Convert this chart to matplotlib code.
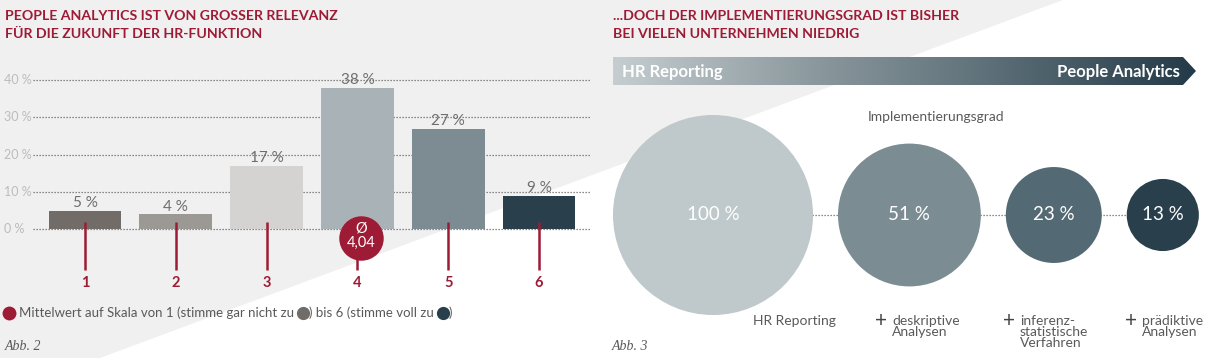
import numpy as np
import matplotlib.pyplot as plt
from matplotlib.patches import Polygon, Circle
from matplotlib.colors import LinearSegmentedColormap
from matplotlib.transforms import blended_transform_factory

W, H = 1209, 358          # output size in pixels, bg axes works in pixel units
RED = "#9e1b36"
TXT = "#5a5a5a"
FONT = "Lato"

# --- left chart data (Abb. 2) ---
scale_points = [1, 2, 3, 4, 5, 6]
shares = [5, 4, 17, 38, 27, 9]
bar_colors = ["#716c67", "#9c9894", "#d4d3d1", "#a9b3b7", "#7d8c92", "#29404c"]
mean_value = 4.04
y_ticks = [0, 10, 20, 30, 40]

# --- right chart data (Abb. 3) ---
stages = ["HR Reporting", "deskriptive\nAnalysen", "inferenz-\nstatistische\nVerfahren",
          "prädiktive\nAnalysen"]
implementation = [100, 51, 23, 13]
bubble_colors = ["#bfc8ca", "#7b8c92", "#536973", "#29404c"]

fig = plt.figure(figsize=(W / 100, H / 100), dpi=100, facecolor="white")
bg = fig.add_axes([0, 0, 1, 1])
bg.set_xlim(0, W)
bg.set_ylim(H, 0)
bg.axis("off")

# diagonal grey backdrop
bg.add_patch(Polygon([(0, 0), (1063, 0), (100, H), (0, H)], closed=True,
                     facecolor="#f0f0f0", edgecolor="none", zorder=0))

# titles
for x0, lines in [(5, ["PEOPLE ANALYTICS IST VON GROSSER RELEVANZ", "FÜR DIE ZUKUNFT DER HR-FUNKTION"]),
                  (613, ["...DOCH DER IMPLEMENTIERUNGSGRAD IST BISHER", "BEI VIELEN UNTERNEHMEN NIEDRIG"])]:
    for i, line in enumerate(lines):
        bg.text(x0, 16 + 18 * i, line, ha="left", va="center", color=RED,
                fontsize=10.2, fontweight="bold", family=FONT)

# ---------------- bar chart ----------------
px_left, px_right, px_top, px_bot = 33, 590, 60, 300
x_of = lambda px: 1 + (px - 85) / 90.8
y_of = lambda py: (229.3 - py) / 3.73
ax = fig.add_axes([px_left / W, (H - px_bot) / H, (px_right - px_left) / W, (px_bot - px_top) / H])
ax.set_facecolor("none")
ax.set_xlim(x_of(px_left), x_of(px_right))
ax.set_ylim(y_of(px_bot), y_of(px_top))
ax.axis("off")

ytr = blended_transform_factory(bg.transData, ax.transData)
for v in y_ticks:
    ax.text(4, v, f"{v} %", transform=ytr, ha="left", va="center", color="#bcbcbc",
            fontsize=9, family=FONT)

ax.hlines(y_ticks, *ax.get_xlim(), colors="#666666", linestyles=(0, (1, 1.4)), lw=0.9, zorder=1)
ax.bar(scale_points, shares, width=0.8, color=bar_colors, zorder=2)
for x, v in zip(scale_points, shares):
    ax.annotate(f"{v} %", (x, v), xytext=(0, 0.5), textcoords="offset points",
                ha="center", va="bottom", fontsize=11, color="#6e6e6e", family=FONT, zorder=3)

ax.vlines(scale_points, y_of(270), y_of(222), colors=RED, lw=1.8, zorder=3)
for x in scale_points:
    ax.text(x, y_of(283), str(x), ha="center", va="center", color=RED,
            fontsize=10.5, fontweight="bold", family=FONT)

my = y_of(238)
ax.plot(mean_value, my, "o", ms=32, color=RED, mec="none", zorder=4)
ax.annotate("Ø", (mean_value, my), xytext=(0, 7), textcoords="offset points",
            ha="center", va="center", color="white", fontsize=10.5, family=FONT, zorder=5)
ax.annotate("4,04", (mean_value, my), xytext=(0, -3.8), textcoords="offset points",
            ha="center", va="center", color="white", fontsize=10.5, family=FONT, zorder=5)

# legend line with inline dots
renderer = fig.canvas.get_renderer()
ly = 313
bg.plot(8.5, ly, "o", ms=10, color=RED, mec="none")
xcur = 19
parts = [("t", "Mittelwert auf Skala von 1 (stimme gar nicht zu"), ("d", bar_colors[0]),
         ("t", ") bis 6 (stimme voll zu"), ("d", bar_colors[-1]), ("t", ")")]
for kind, val in parts:
    if kind == "t":
        t = bg.text(xcur, ly, val, ha="left", va="center", color=TXT, fontsize=9.5, family=FONT)
        xcur += t.get_window_extent(renderer).width
    else:
        bg.plot(xcur + 9, ly, "o", ms=9.5, color=val, mec="none")
        xcur += 15

bg.text(5, 347, "Abb. 2", ha="left", va="center", color=TXT, fontsize=10,
        style="italic", family="Liberation Serif")

# ---------------- gradient arrow ----------------
grad = LinearSegmentedColormap.from_list("grad", ["#c5cdd0", "#8d9a9f", "#5a6d76", "#243a48"])
im = bg.imshow(np.linspace(0, 1, 256)[None, :], cmap=grad, aspect="auto",
               extent=[613, 1196, 85, 57], zorder=1)
arrow = Polygon([(613, 57), (1183, 57), (1196, 71), (1183, 85), (613, 85)], closed=True,
                facecolor="none", edgecolor="none", transform=bg.transData)
bg.add_patch(arrow)
im.set_clip_path(arrow)
bg.set_xlim(0, W)
bg.set_ylim(H, 0)
bg.text(622, 72, "HR Reporting", ha="left", va="center", color="white",
        fontsize=12, fontweight="bold", family=FONT, zorder=2)
bg.text(1180, 72, "People Analytics", ha="right", va="center", color="white",
        fontsize=12, fontweight="bold", family=FONT, zorder=2)

# ---------------- bubbles ----------------
R, gap, cy = 100, 25, 215
radii = [R * np.sqrt(v / 100) for v in implementation]
centers = []
edge = 613
for r in radii:
    centers.append(edge + r)
    edge += 2 * r + gap

bg.plot([centers[0], centers[-1]], [cy, cy], color="#666666", ls=(0, (1, 1.4)), lw=0.9, zorder=1)
for cx, r, v, c in zip(centers, radii, implementation, bubble_colors):
    bg.add_patch(Circle((cx, cy), r, facecolor=c, edgecolor="none", zorder=2))
    bg.text(cx, cy, f"{v} %", ha="center", va="center", color="white", fontsize=13.5,
            family=FONT, zorder=3)

bg.text(868, 117, "Implementierungsgrad", ha="left", va="center", color=TXT,
        fontsize=10, family=FONT)

label_x = [753, 892, 1020, 1142]
for i, (lx, name) in enumerate(zip(label_x, stages)):
    bg.text(lx, 315, name, ha="left", va="top", color=TXT, fontsize=10,
            family=FONT, linespacing=0.92)
    if i > 0:
        bg.text(lx - 11, 321, "+", ha="center", va="center", color="#444444",
                fontsize=15, family=FONT)

bg.text(612, 347, "Abb. 3", ha="left", va="center", color=TXT, fontsize=10,
        style="italic", family="Liberation Serif")

fig.savefig("out.png", dpi=100, facecolor="white")
